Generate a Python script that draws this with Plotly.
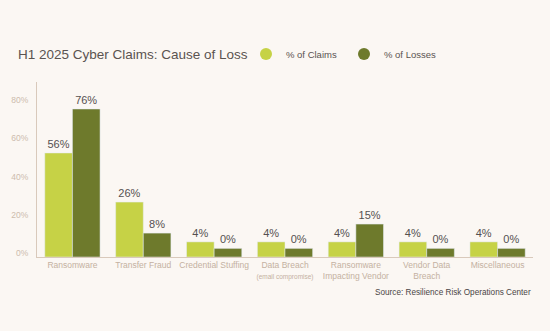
import plotly.graph_objects as go

categories = ["Ransomware", "Transfer Fraud", "Credential Stuffing",
              "Data Breach<br><span style='font-size:6.5px'>(email compromise)</span>",
              "Ransomware<br>Impacting Vendor", "Vendor Data<br>Breach", "Miscellaneous"]
claims_labels = [56, 26, 4, 4, 4, 4, 4]
losses_labels = [76, 8, 0, 0, 15, 0, 0]
# bar tops as drawn in the reference (visual heights, % scale)
claims_bars = [52.4, 26.7, 5.9, 5.9, 5.9, 5.9, 5.9]
losses_bars = [75.4, 10.5, 2.5, 2.5, 15.2, 2.5, 2.5]
y_ticks = [0, 20, 40, 60, 80]
BASE = -2  # bars rise from the axis baseline, slightly below 0%

C_LIGHT = "#c6d246"
C_DARK = "#6e7a2c"
BG = "#fbf7f3"
FONT = "Liberation Sans"

fig = go.Figure()
fig.add_trace(go.Bar(x=categories, y=[v - BASE for v in claims_bars], base=BASE,
                     marker_color=C_LIGHT,
                     text=[f"{v}%" for v in claims_labels], textposition="outside",
                     textfont=dict(size=11, color="#555050", family=FONT),
                     cliponaxis=False, showlegend=False, name="% of Claims"))
fig.add_trace(go.Bar(x=categories, y=[v - BASE for v in losses_bars], base=BASE,
                     marker_color=C_DARK,
                     text=[f"{v}%" for v in losses_labels], textposition="outside",
                     textfont=dict(size=11, color="#555050", family=FONT),
                     cliponaxis=False, showlegend=False, name="% of Losses"))
for nm, col in [("% of Claims", C_LIGHT), ("% of Losses", C_DARK)]:
    fig.add_trace(go.Scatter(x=[None], y=[None], mode="markers", name=nm,
                             marker=dict(symbol="circle", size=13, color=col)))

fig.update_layout(
    width=550, height=331,
    paper_bgcolor=BG, plot_bgcolor=BG,
    margin=dict(l=37, r=17, t=82, b=74),
    barmode="group", bargap=0.22, bargroupgap=0,
    title=dict(text="H1 2025 Cyber Claims: Cause of Loss", x=18/550, xanchor="left",
               y=1-54/331, yanchor="middle",
               font=dict(size=13.5, color="#5a5350", family=FONT)),
    legend=dict(orientation="h", xref="container", yref="container",
                x=246/550, xanchor="left", y=1-54/331, yanchor="middle",
                font=dict(size=9.5, color="#5a5350", family=FONT),
                entrywidth=53, entrywidthmode="pixels", itemsizing="constant",
                bgcolor="rgba(0,0,0,0)"),
    xaxis=dict(showline=True, linecolor="#d9c9bb", linewidth=1, ticks="",
               tickfont=dict(size=8.5, color="#c4b1a1", family=FONT), showgrid=False,
               fixedrange=True),
    yaxis=dict(range=[BASE, 89.5], tickvals=y_ticks, ticktext=[f"{v}%" for v in y_ticks],
               showgrid=False, zeroline=False, showline=True, linecolor="#d9c9bb",
               linewidth=1, tickfont=dict(size=8.5, color="#cdbcad", family=FONT),
               ticklabelstandoff=6),
    annotations=[dict(text="Source: Resilience Risk Operations Center", xref="paper",
                      yref="paper", x=1, xanchor="right", y=-(292-257)/175, yanchor="middle",
                      showarrow=False, font=dict(size=8.2, color="#4a4545", family=FONT))],
)
fig.write_html("out.html")
